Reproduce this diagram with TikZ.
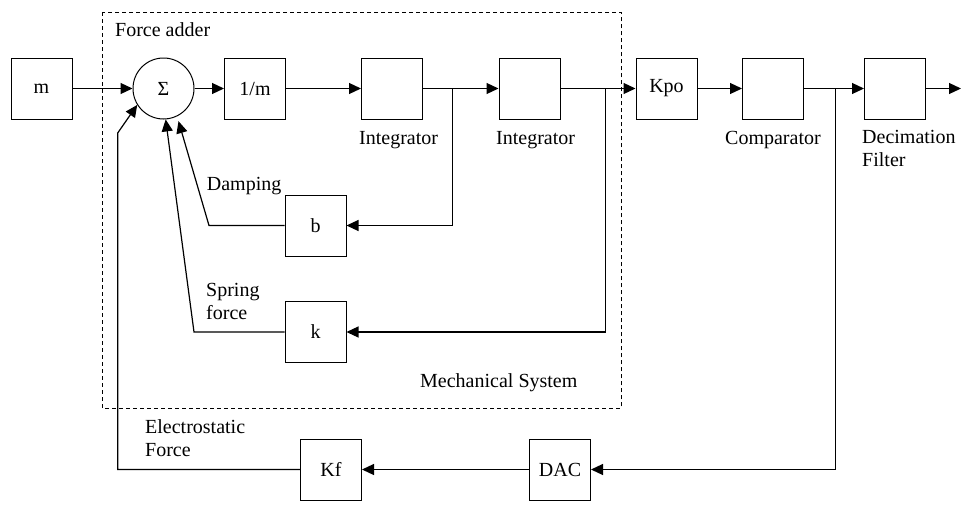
\documentclass[tikz,border=0pt]{standalone}
\usepackage{fontspec}
\setmainfont{Liberation Serif}
\usetikzlibrary{arrows.meta}
\begin{document}
\begin{tikzpicture}[x=1pt,y=-1pt,
  every node/.style={font=\fontsize{20}{23}\selectfont},
  blk/.style={draw,line width=1pt,minimum size=61pt,inner sep=0pt},
  sumc/.style={draw,circle,line width=1pt,minimum size=61pt,inner sep=0pt},
  lbl/.style={anchor=base west,inner sep=0pt,align=left},
  arr/.style={line width=1.2pt,-{Triangle[length=12pt,width=11pt]}},
  grp/.style={draw,line width=1pt,dash pattern=on 4pt off 3pt}]
\useasboundingbox (0,0) rectangle (963,514);

% mechanical system boundary
\draw[grp] (102.7,12.3) rectangle (621,408.7);

% forward path
\node[blk]  (m)    at (41.5,88.5)  {m};
\node[sumc] (sum)  at (163.5,88.5) {Σ};
\node[blk]  (inv)  at (255,88.5)   {1/m};
\node[blk]  (int1) at (392,88.5)   {};
\node[blk]  (int2) at (529.5,88.5) {};
\node[blk]  (kpo)  at (666.5,88.5) {Kpo};
\node[blk]  (cmp)  at (773,88.5)   {};
\node[blk]  (dec)  at (895,88.5)   {};

% feedback blocks
\node[blk] (b)   at (315.5,225.5) {b};
\node[blk] (k)   at (315.5,332)   {k};
\node[blk] (kf)  at (331,469.5)   {Kf};
\node[blk] (dac) at (560,469.5)   {DAC};

% branch points and bends
\coordinate (br1) at (452.7,88.5);
\coordinate (br2) at (605.7,88.5);
\coordinate (br3) at (835.3,88.5);
\coordinate (out) at (961,88.5);
\coordinate (dmp) at (209,225.5);
\coordinate (spr) at (194,332);
\coordinate (es1) at (117.7,469.5);
\coordinate (es2) at (117.7,133);

% forward connectors
\draw[arr] (m) -- (sum);
\draw[arr] (sum) -- (inv);
\draw[arr] (inv) -- (int1);
\draw[arr] (int1) -- (int2);
\draw[arr] (int2) -- (kpo);
\draw[arr] (kpo) -- (cmp);
\draw[arr] (cmp) -- (dec);
\draw[arr] (dec) -- (out);

% feedback connectors
\draw[arr] (br1) |- (b);
\draw[arr] (br2) |- (k);
\draw[arr] (br3) |- (dac);
\draw[arr] (dac) -- (kf);
\draw[arr,shorten >=5pt] (b.west) -- (dmp) -- (sum.-64);
\draw[arr] (k.west) -- (spr) -- (sum.-86);
\draw[arr] (kf.west) -- (es1) -- (es2) -- (sum.-148);

% labels (multi-line ones are placed by their last baseline)
\node[lbl] (tadd) at (115,36.7)  {Force adder};
\node[lbl] (tint1) at (359,144)  {Integrator};
\node[lbl] (tint2) at (496,144)  {Integrator};
\node[lbl] (tcmp) at (725,144)   {Comparator};
\node[lbl] (tdec) at (862,166.7) {Decimation\\Filter};
\node[lbl] (tdmp) at (206.7,190.5) {Damping};
\node[lbl] (tspr) at (206,319.3) {Spring\\force};
\node[lbl] (tmech) at (420,387.7) {Mechanical System};
\node[lbl] (tes) at (145,456.7)  {Electrostatic\\Force};
\end{tikzpicture}
\end{document}
